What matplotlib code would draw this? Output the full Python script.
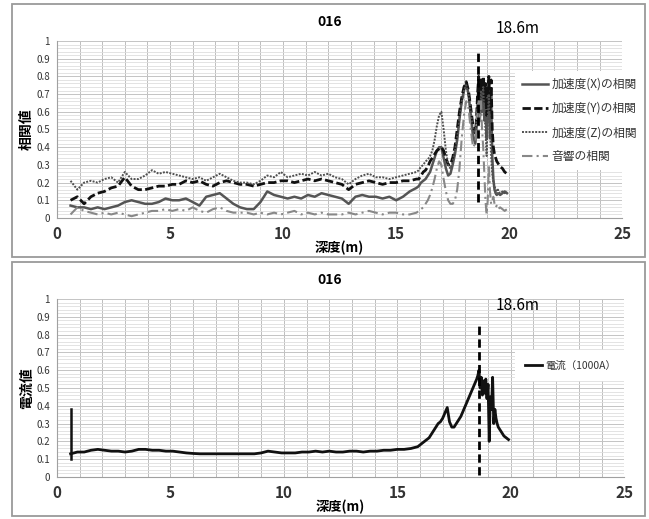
import matplotlib
matplotlib.use('Agg')
import matplotlib.pyplot as plt
from matplotlib.patches import Rectangle
from matplotlib.ticker import MultipleLocator, FuncFormatter

plt.rcParams['font.family'] = ['Noto Sans CJK JP', 'DejaVu Sans']

# depth (m): coarse steps in the quiet zone, fine steps through the peaks
depth = [0.6, 0.9, 1.2, 1.5, 1.8, 2.1, 2.4, 2.7, 3.0, 3.3,
         3.6, 3.9, 4.2, 4.5, 4.8, 5.1, 5.4, 5.7, 6.0, 6.3,
         6.6, 6.9, 7.2, 7.5, 7.8, 8.1, 8.4, 8.7, 9.0, 9.3,
         9.6, 9.9, 10.2, 10.5, 10.8, 11.1, 11.4, 11.7, 12.0, 12.3,
         12.6, 12.9, 13.2, 13.5, 13.8, 14.1, 14.4, 14.7, 15.0, 15.3,
         15.6, 15.9,
         16.0, 16.1, 16.2, 16.3, 16.4, 16.5, 16.6, 16.7, 16.8, 16.9,
         17.0, 17.1, 17.2, 17.3, 17.4, 17.5, 17.6, 17.7, 17.8, 17.9,
         18.0, 18.1, 18.2, 18.3, 18.4, 18.5,
         18.55, 18.6, 18.65, 18.7, 18.75, 18.8, 18.85, 18.9, 18.95, 19.0,
         19.05, 19.1, 19.15, 19.2, 19.25, 19.3, 19.35, 19.4, 19.45, 19.5,
         19.6, 19.7, 19.8, 19.9]

corr_x = [0.07, 0.06, 0.06, 0.05, 0.06, 0.05, 0.06, 0.07, 0.09, 0.10,
          0.09, 0.08, 0.08, 0.09, 0.11, 0.10, 0.10, 0.11, 0.09, 0.07,
          0.12, 0.13, 0.14, 0.11, 0.08, 0.06, 0.05, 0.05, 0.09, 0.15,
          0.13, 0.12, 0.11, 0.12, 0.11, 0.13, 0.12, 0.14, 0.13, 0.12,
          0.11, 0.08, 0.12, 0.13, 0.12, 0.12, 0.11, 0.12, 0.10, 0.12,
          0.15, 0.17,
          0.18, 0.20, 0.21, 0.22, 0.24, 0.26, 0.30, 0.34, 0.38, 0.40,
          0.40, 0.34, 0.28, 0.24, 0.25, 0.30, 0.36, 0.44, 0.56, 0.66,
          0.72, 0.76, 0.70, 0.58, 0.46, 0.42,
          0.50, 0.65, 0.76, 0.55, 0.72, 0.60, 0.78, 0.55, 0.70, 0.45,
          0.68, 0.78, 0.45, 0.70, 0.35, 0.22, 0.16, 0.14, 0.13, 0.14,
          0.13, 0.14, 0.15, 0.14]

corr_y = [0.10, 0.12, 0.08, 0.12, 0.14, 0.15, 0.17, 0.18, 0.23, 0.18,
          0.16, 0.16, 0.17, 0.18, 0.18, 0.19, 0.19, 0.21, 0.20, 0.21,
          0.19, 0.18, 0.20, 0.21, 0.20, 0.19, 0.19, 0.18, 0.19, 0.20,
          0.20, 0.21, 0.21, 0.20, 0.21, 0.22, 0.21, 0.22, 0.21, 0.20,
          0.19, 0.16, 0.19, 0.20, 0.21, 0.20, 0.19, 0.20, 0.20, 0.21,
          0.21, 0.22,
          0.22, 0.24, 0.26, 0.27, 0.29, 0.32, 0.34, 0.36, 0.38, 0.39,
          0.40, 0.38, 0.34, 0.30, 0.30, 0.34, 0.40, 0.50, 0.60, 0.68,
          0.74, 0.77, 0.72, 0.62, 0.52, 0.48,
          0.55, 0.70, 0.80, 0.62, 0.78, 0.68, 0.80, 0.66, 0.76, 0.58,
          0.72, 0.80, 0.60, 0.78, 0.50, 0.40, 0.36, 0.34, 0.32, 0.31,
          0.29, 0.28, 0.26, 0.25]

corr_z = [0.21, 0.16, 0.20, 0.21, 0.20, 0.22, 0.23, 0.20, 0.26, 0.22,
          0.22, 0.24, 0.27, 0.25, 0.26, 0.25, 0.24, 0.23, 0.22, 0.23,
          0.21, 0.23, 0.25, 0.23, 0.21, 0.20, 0.20, 0.19, 0.21, 0.24,
          0.23, 0.26, 0.23, 0.24, 0.25, 0.24, 0.26, 0.24, 0.25, 0.23,
          0.22, 0.19, 0.22, 0.24, 0.25, 0.23, 0.23, 0.22, 0.23, 0.24,
          0.25, 0.26,
          0.27, 0.29, 0.30, 0.32, 0.33, 0.35, 0.38, 0.44, 0.52, 0.58,
          0.60, 0.50, 0.38, 0.30, 0.28, 0.32, 0.38, 0.46, 0.56, 0.66,
          0.72, 0.75, 0.70, 0.60, 0.50, 0.48,
          0.55, 0.62, 0.70, 0.60, 0.72, 0.65, 0.74, 0.60, 0.50, 0.35,
          0.55, 0.70, 0.50, 0.35, 0.25, 0.20, 0.18, 0.16, 0.15, 0.16,
          0.14, 0.15, 0.14, 0.15]

corr_sound = [0.02, 0.06, 0.04, 0.03, 0.02, 0.03, 0.02, 0.03, 0.02, 0.01,
              0.02, 0.03, 0.04, 0.04, 0.05, 0.04, 0.05, 0.04, 0.06, 0.04,
              0.03, 0.05, 0.06, 0.04, 0.03, 0.03, 0.03, 0.02, 0.03, 0.02,
              0.03, 0.02, 0.03, 0.04, 0.02, 0.03, 0.02, 0.03, 0.02, 0.02,
              0.02, 0.03, 0.02, 0.03, 0.04, 0.03, 0.02, 0.03, 0.03, 0.02,
              0.02, 0.03,
              0.04, 0.05, 0.06, 0.08, 0.10, 0.13, 0.17, 0.22, 0.28, 0.32,
              0.30, 0.22, 0.15, 0.10, 0.08, 0.08, 0.10, 0.16, 0.28, 0.45,
              0.58, 0.66, 0.62, 0.50, 0.40, 0.42,
              0.50, 0.60, 0.68, 0.55, 0.66, 0.50, 0.40, 0.25, 0.10, 0.02,
              0.10, 0.30, 0.15, 0.08, 0.10, 0.12, 0.08, 0.06, 0.07, 0.05,
              0.06, 0.05, 0.04, 0.05]

current = [0.13, 0.14, 0.14, 0.15, 0.155, 0.15, 0.145, 0.145, 0.14, 0.145,
           0.155, 0.155, 0.15, 0.15, 0.145, 0.145, 0.14, 0.135, 0.132, 0.13,
           0.13, 0.13, 0.13, 0.13, 0.13, 0.13, 0.13, 0.13, 0.135, 0.145,
           0.14, 0.135, 0.135, 0.135, 0.14, 0.14, 0.145, 0.14, 0.145, 0.14,
           0.14, 0.145, 0.145, 0.14, 0.145, 0.145, 0.15, 0.15, 0.155, 0.155,
           0.16, 0.17,
           0.18, 0.19, 0.20, 0.21, 0.22, 0.24, 0.26, 0.28, 0.30, 0.31,
           0.33, 0.36, 0.39, 0.31, 0.28, 0.28, 0.30, 0.32, 0.34, 0.37,
           0.40, 0.43, 0.46, 0.49, 0.52, 0.55,
           0.57, 0.60, 0.50, 0.56, 0.46, 0.54, 0.47, 0.55, 0.44, 0.52,
           0.20, 0.45, 0.38, 0.56, 0.30, 0.38, 0.33, 0.30, 0.28, 0.27,
           0.25, 0.23, 0.22, 0.21]

# start-up spike of the current at the first depth
spike_depth = [0.6, 0.6]
spike_current = [0.10, 0.38]

marker_depth = 18.6
marker_top = [0.09, 0.95]
marker_bottom = [0.01, 0.85]

fig = plt.figure(figsize=(6.49, 5.19), dpi=100)

# panel frames
for y0, h in [(0.505, 0.487), (0.006, 0.489)]:
    fig.patches.append(Rectangle((0.018, y0), 0.976, h, transform=fig.transFigure,
                                 fill=False, edgecolor='#9a9a9a', lw=1.3))

ax1 = fig.add_axes([0.0878, 0.580, 0.871, 0.341])
ax2 = fig.add_axes([0.0878, 0.081, 0.874, 0.343])


def style_axes(ax):
    ax.set_xlim(0, 25)
    ax.set_ylim(0, 1)
    ax.xaxis.set_major_locator(MultipleLocator(5))
    ax.xaxis.set_minor_locator(MultipleLocator(1))
    ax.yaxis.set_major_locator(MultipleLocator(0.1))
    ax.yaxis.set_minor_locator(MultipleLocator(0.02))
    ax.yaxis.set_major_formatter(FuncFormatter(lambda v, p: f'{v:g}'))
    ax.grid(which='minor', axis='y', color='#dedede', lw=0.6)
    ax.grid(which='major', axis='y', color='#c4c4c4', lw=0.7)
    ax.grid(which='both', axis='x', color='#bdbdbd', lw=0.7)
    ax.set_axisbelow(True)
    ax.tick_params(which='both', length=0)
    ax.tick_params(axis='y', labelsize=7, pad=5, labelcolor='#333333')
    ax.tick_params(axis='x', labelsize=11, pad=6, labelcolor='#333333')
    for lab in ax.get_xticklabels():
        lab.set_fontweight('bold')
    for side in ['top', 'right']:
        ax.spines[side].set_visible(False)
    for side in ['left', 'bottom']:
        ax.spines[side].set_color('#a0a0a0')
        ax.spines[side].set_linewidth(0.8)


style_axes(ax1)
style_axes(ax2)

# correlation panel
ax1.plot(depth, corr_x, color='#555555', lw=1.8, label='加速度(X)の相関')
ax1.plot(depth, corr_y, color='#111111', lw=2.0, ls=(0, (3, 1.2)), label='加速度(Y)の相関')
ax1.plot(depth, corr_z, color='#505050', lw=1.4, ls=(0, (1, 0.7)), label='加速度(Z)の相関')
ax1.plot(depth, corr_sound, color='#888888', lw=1.5, ls=(0, (5, 2, 1, 2)), label='音響の相関')
ax1.plot([marker_depth, marker_depth], marker_top, color='black', lw=2, ls=(0, (3, 1.6)))

ax1.set_xlabel('深度(m)', fontsize=9.5, fontweight='bold', labelpad=-1)
ax1.set_ylabel('相関値', fontsize=10, fontweight='bold', labelpad=2)
fig.text(0.508, 0.957, '016', ha='center', va='center', fontsize=10, fontweight='bold')
fig.text(0.797, 0.945, '18.6m', ha='center', va='center', fontsize=11)

leg1 = ax1.legend(loc='upper left', bbox_to_anchor=(0.793, 0.864), bbox_transform=fig.transFigure,
                  fontsize=8.5, frameon=True, fancybox=False, edgecolor='none', facecolor='white',
                  framealpha=1, handlelength=2.2, handletextpad=0.3, labelspacing=0.95,
                  borderpad=0.6, borderaxespad=0)
for t in leg1.get_texts():
    t.set_color('#333333')

# current panel
ax2.plot(depth, current, color='#111111', lw=2.0, label='電流（1000A）')
ax2.plot(spike_depth, spike_current, color='#111111', lw=1.8)
ax2.plot([marker_depth, marker_depth], marker_bottom, color='black', lw=2, ls=(0, (3, 1.6)))

ax2.set_xlabel('深度(m)', fontsize=9.5, fontweight='bold', labelpad=-1)
ax2.set_ylabel('電流値', fontsize=10, fontweight='bold', labelpad=2)
fig.text(0.508, 0.461, '016', ha='center', va='center', fontsize=10, fontweight='bold')
fig.text(0.797, 0.412, '18.6m', ha='center', va='center', fontsize=11)

leg2 = ax2.legend(loc='upper left', bbox_to_anchor=(0.793, 0.326), bbox_transform=fig.transFigure,
                  fontsize=7.5, frameon=True, fancybox=False, edgecolor='none', facecolor='white',
                  framealpha=1, handlelength=1.6, handletextpad=0.3,
                  borderpad=1.0, borderaxespad=0)
for t in leg2.get_texts():
    t.set_color('#333333')

fig.savefig('out.png', dpi=100, facecolor='white')
